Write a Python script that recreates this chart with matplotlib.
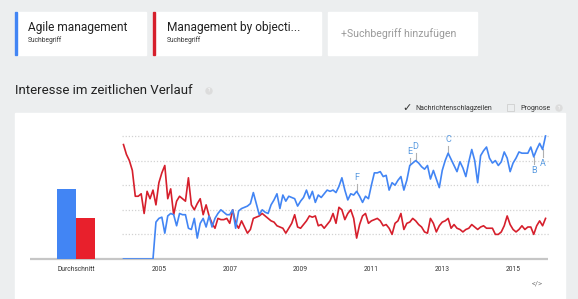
import numpy as np
import pandas as pd
import matplotlib.pyplot as plt
from matplotlib.patches import Rectangle, Circle

plt.rcParams['font.family'] = ['Roboto', 'DejaVu Sans']

# monthly search interest, Jan 2004 .. Dec 2015
months = pd.date_range('2004-01-01', periods=144, freq='MS')
agile = [0, 0, 0, 0, 0, 0, 0, 0, 0, 0,
         0, 30, 33, 34, 21, 35, 37, 36, 27, 37,
         36, 36, 25, 24, 33, 17, 29, 33, 26, 35,
         26, 33, 37, 40, 38, 36, 36, 40, 25, 39,
         41, 42, 43, 45, 54, 45, 36, 40, 38, 37,
         44, 48, 53, 41, 52, 47, 51, 50, 49, 43,
         47, 50, 56, 49, 55, 46, 52, 50, 53, 56,
         55, 56, 54, 59, 66, 56, 48, 53, 52, 55,
         51, 46, 51, 49, 60, 70, 70, 71, 67, 68,
         56, 62, 60, 64, 67, 56, 64, 76, 78, 80,
         78, 75, 73, 76, 65, 72, 65, 58, 72, 80,
         86, 81, 76, 71, 79, 74, 67, 79, 89, 80,
         62, 84, 88, 91, 82, 78, 80, 76, 79, 87,
         82, 71, 78, 82, 87, 86, 86, 86, 91, 83,
         89, 94, 89, 100]
mbo = [93, 85, 80, 72, 51, 51, 53, 37, 55, 49,
       56, 44, 62, 70, 76, 49, 57, 36, 47, 51,
       49, 47, 66, 44, 40, 45, 49, 36, 44, 35,
       29, 25, 33, 32, 32, 33, 29, 40, 29, 25,
       31, 26, 21, 24, 33, 34, 35, 37, 35, 33,
       31, 30, 27, 26, 25, 21, 25, 29, 36, 26,
       25, 28, 31, 35, 34, 35, 27, 28, 25, 28,
       31, 37, 29, 42, 40, 32, 37, 40, 33, 17,
       28, 35, 37, 29, 31, 32, 33, 31, 27, 28,
       25, 20, 29, 31, 37, 24, 29, 30, 33, 31,
       28, 26, 22, 21, 33, 29, 22, 27, 30, 31,
       33, 25, 28, 25, 24, 22, 24, 25, 28, 26,
       24, 26, 27, 25, 25, 25, 20, 20, 22, 27,
       35, 28, 24, 22, 24, 27, 24, 26, 26, 20,
       27, 31, 27, 33]
avg_labels = ['Durchschnitt']
avg_agile = [57]
avg_mbo = [33]
years = [2005, 2007, 2009, 2011, 2013, 2015]
# news headline markers: letter, month index, above/below
notes = [('F', 79, 1), ('E', 97, 1), ('D', 99, 1), ('C', 110, 1), ('B', 139, -1), ('A', 142, -1)]

BLUE = '#4285f4'
RED = '#d61f2c'
W, H = 578, 299

fig = plt.figure(figsize=(W / 100, H / 100), dpi=100, facecolor='#eceeef')

def rect(x0, y0, x1, y1):
    return [x0 / W, 1 - y1 / H, (x1 - x0) / W, (y1 - y0) / H]

# background in pixel coords
bg = fig.add_axes([0, 0, 1, 1])
bg.set_xlim(0, W)
bg.set_ylim(H, 0)
bg.axis('off')
bg.add_patch(Rectangle((15, 113), 550, 190, color='white'))
for x0, x1, c in [(15, 146, BLUE), (153, 321, RED), (328, 477, None)]:
    bg.add_patch(Rectangle((x0, 12), x1 - x0, 43, color='white'))
    if c:
        bg.add_patch(Rectangle((x0, 12), 1.6, 43, color=c))
bg.text(28, 27, 'Agile management', fontsize=8.6, va='center', color='#222')
bg.text(28, 40, 'Suchbegriff', fontsize=4.8, va='center', color='#333')
bg.text(167, 27, 'Management by objecti...', fontsize=8.6, va='center', color='#222')
bg.text(167, 40, 'Suchbegriff', fontsize=4.8, va='center', color='#333')
bg.text(341, 34, '+Suchbegriff hinzufügen', fontsize=7.6, va='center', color='#9a9a9a')
bg.text(15, 91, 'Interesse im zeitlichen Verlauf', fontsize=9.5, va='center', color='#222')
for cx in [209, 559]:
    bg.add_patch(Circle((cx, 91 if cx < 300 else 108), 3, color='#dcdcdc'))
    bg.text(cx, 91 if cx < 300 else 108, '?', fontsize=3.5, color='white', ha='center', va='center')
bg.text(407, 108, '✓', fontsize=8, color='#333', ha='center', va='center', family='DejaVu Sans')
bg.text(415, 108, 'Nachrichtenschlagzeilen', fontsize=5, va='center', color='#333')
bg.add_patch(Rectangle((507, 104), 7, 7, fill=False, ec='#cfcfcf', lw=0.6))
bg.text(520, 108, 'Prognose', fontsize=5, va='center', color='#333')
bg.plot([30, 548], [259, 259], color='#c6c6c6', lw=1.6, solid_capstyle='butt')
bg.text(537, 284, '</>', fontsize=5.5, color='#777', ha='center', va='center')

# averages
ax0 = fig.add_axes(rect(30, 133.5, 122, 259))
ax0.patch.set_alpha(0)
xb = np.arange(len(avg_labels))
bw = 0.413
ax0.bar(xb - bw / 2, avg_agile, bw, color=BLUE)
ax0.bar(xb + bw / 2, avg_mbo, bw, color='#e8202c')
ax0.set_xlim(-1, 1)
ax0.set_ylim(0, 102)
ax0.set_xticks(xb, avg_labels)
ax0.set_yticks([])
ax0.tick_params(axis='x', length=0, pad=5, labelsize=4.8, labelcolor='#333')
for s in ax0.spines.values():
    s.set_visible(False)

# time series
ax = fig.add_axes(rect(122, 133.5, 548.5, 259))
ax.patch.set_alpha(0)
t = np.arange(len(months))
for v in [20, 40, 60, 80, 100]:
    ax.axhline(v, color='#d2d2d2', lw=0.9, ls=(0, (1, 1.5)), zorder=0)
ax.plot(t, mbo, color=RED, lw=1.2, zorder=3)
ax.plot(t, agile, color=BLUE, lw=1.2, zorder=4)
for lab, i, d in notes:
    y = agile[i]
    ax.plot([i, i], [y, y + d * 6], color='#b0b0b0', lw=0.8, zorder=2)
    ax.text(i, y + d * 7.5, lab, fontsize=6.5, color='#5a9be0', ha='center',
            va='bottom' if d > 0 else 'top', zorder=5)
ax.set_xlim(-0.5, 144)
ax.set_ylim(0, 102)
ax.set_xticks([list(months).index(pd.Timestamp(f'{y}-01-01')) for y in years], [str(y) for y in years])
ax.set_yticks([])
ax.tick_params(axis='x', length=0, pad=5, labelsize=4.8, labelcolor='#333')
for s in ax.spines.values():
    s.set_visible(False)

fig.savefig('out.png', dpi=100, facecolor=fig.get_facecolor())
